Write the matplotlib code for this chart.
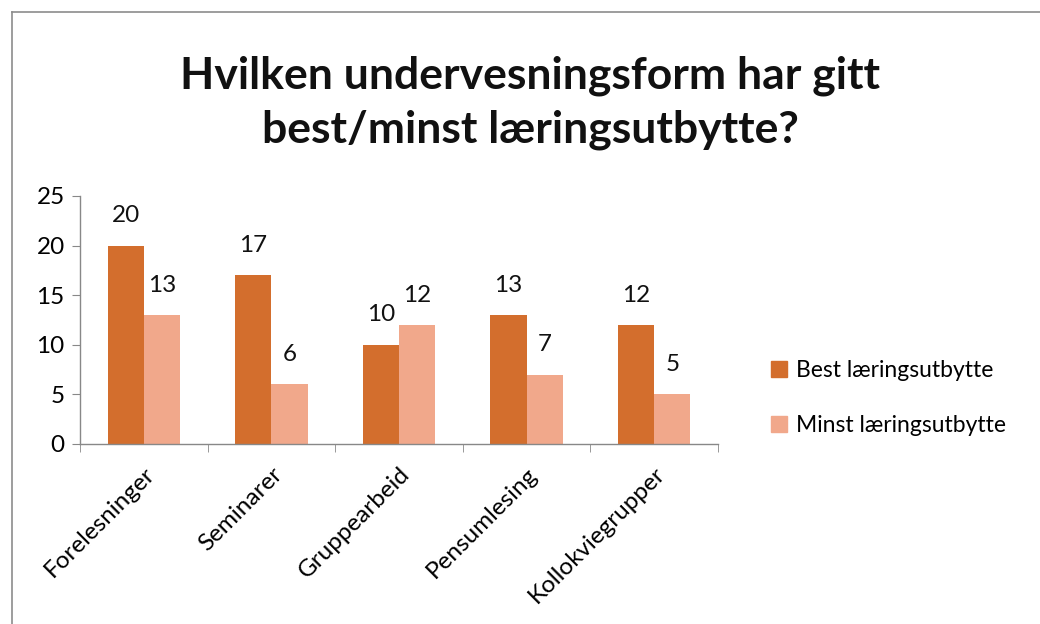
import matplotlib
matplotlib.use("Agg")
import matplotlib.pyplot as plt
from matplotlib.lines import Line2D
from matplotlib.patches import Patch
import numpy as np

plt.rcParams['font.family'] = ['Lato', 'DejaVu Sans']

categories = ["Forelesninger", "Seminarer", "Gruppearbeid", "Pensumlesing", "Kollokviegrupper"]
best = [20, 17, 10, 13, 12]
minst = [13, 6, 12, 7, 5]
series_names = ["Best læringsutbytte", "Minst læringsutbytte"]
yticks = [0, 5, 10, 15, 20, 25]
title = "Hvilken undervesningsform har gitt\nbest/minst læringsutbytte?"

c_best = "#D36E2D"
c_minst = "#F1A88B"
fs = 17.5

fig = plt.figure(figsize=(10.4, 6.24), dpi=100)
ax = fig.add_axes([80/1040, 1-444/624, (718-80)/1040, (444-196)/624])

x = np.arange(len(categories))
w = 0.283
b1 = ax.bar(x - w/2, best, w, color=c_best, label=series_names[0])
b2 = ax.bar(x + w/2, minst, w, color=c_minst, label=series_names[1])
for bars in (b1, b2):
    for r in bars:
        ax.annotate(f"{int(r.get_height())}", (r.get_x()+r.get_width()/2, r.get_height()),
                    xytext=(0, 14), textcoords="offset points", ha="center", va="bottom",
                    fontsize=fs, color="#111111")

ax.set_xlim(-0.5, len(categories)-0.5)
ax.set_ylim(0, 25)
ax.set_yticks(yticks)
ax.set_yticklabels([str(v) for v in yticks], fontsize=fs)
ax.set_xticks(x)
ax.set_xticklabels(categories, rotation=45, ha="right", rotation_mode="anchor", fontsize=fs)
ax.tick_params(axis="x", length=0, pad=14)
ax.set_xticks(np.arange(len(categories)+1) - 0.5, minor=True)
ax.tick_params(axis="x", which="minor", length=6, color="#888888")
ax.tick_params(axis="y", length=6, color="#888888", pad=5)
for s in ["top", "right"]:
    ax.spines[s].set_visible(False)
for s in ["left", "bottom"]:
    ax.spines[s].set_color("#888888")
    ax.spines[s].set_linewidth(1)

fig.text(0.51, 1-103/624, title, ha="center", va="center", fontsize=32, fontweight="bold",
         linespacing=1.42, color="#111111")

handles = [Patch(color=c_best), Patch(color=c_minst)]
fig.legend(handles, series_names, loc="center left", bbox_to_anchor=(750/1040, 1-398/624),
           frameon=False, fontsize=16.5, handlelength=0.7, handleheight=0.7,
           handletextpad=0.4, labelspacing=1.5)

fig.add_artist(Line2D([12/1040, 12/1040], [0, 1-12/624], color="#8c8c8c", lw=1.2, transform=fig.transFigure))
fig.add_artist(Line2D([12/1040, 1], [1-12/624, 1-12/624], color="#8c8c8c", lw=1.2, transform=fig.transFigure))

fig.savefig("out.png", dpi=100)
